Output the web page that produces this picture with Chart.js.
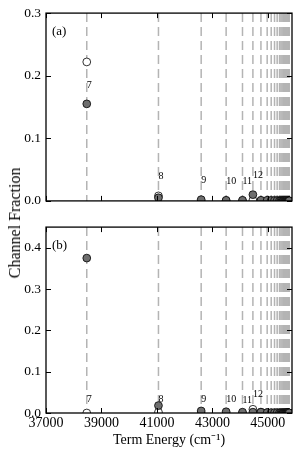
<!DOCTYPE html>
<html>
<head>
<meta charset="utf-8">
<script src="https://cdn.jsdelivr.net/npm/chart.js@4.4.1/dist/chart.umd.min.js"></script>
<style>
  body { margin: 0; background: #fff; }
  #wrap { position: relative; width: 304px; height: 463px; background: #fff; }
  .panel { position: absolute; left: 0; }
  #ylabel {
    position: absolute; left: 15px; top: 223px;
    transform: translate(-50%, -50%) rotate(-90deg);
    font: 16px "Liberation Serif", serif; white-space: nowrap; color: #000;
  }
</style>
</head>
<body>
<div id="wrap">
  <canvas id="topChart" class="panel" style="top:0" width="304" height="214"></canvas>
  <canvas id="bottomChart" class="panel" style="top:214px" width="304" height="249"></canvas>
  <div id="ylabel">Channel Fraction</div>
</div>
<script>
// Rydberg level positions (term energy, cm^-1), n = 7 upward
var lineEnergies = [38470, 41055, 42595, 43495, 44085, 44460, 44750, 44975, 45120, 45240,
  45335, 45420, 45470, 45510, 45545, 45575, 45600, 45625, 45645, 45665,
  45680, 45695, 45708, 45720, 45730, 45740, 45748, 45756, 45763, 45770];

// panel (a)
var filledA = [0.155, 0.005, 0.002, 0.001, 0.001, 0.010, 0.001, 0.001, 0.0008, 0.0007,
  0.0006, 0.0005, 0.0005, 0.0004, 0.0004, 0.0004, 0.0003, 0.0003, 0.0003, 0.0003,
  0.0002, 0.0002, 0.0002, 0.0002, 0.0002, 0.0002, 0.0001, 0.0001, 0.0001, 0.0001];
var openA = [0.222, 0.008, 0, 0, 0, 0.001, 0, 0, 0, 0,
  0, 0, 0, 0, 0, 0, 0, 0, 0, 0,
  0, 0, 0, 0, 0, 0, 0, 0, 0, 0];

// panel (b)
var filledB = [0.375, 0.018, 0.005, 0.003, 0.002, 0.002, 0.002, 0.001, 0.001, 0.001,
  0.001, 0.0008, 0.0007, 0.0006, 0.0005, 0.0005, 0.0004, 0.0004, 0.0003, 0.0003,
  0.0003, 0.0002, 0.0002, 0.0002, 0.0002, 0.0002, 0.0001, 0.0001, 0.0001, 0.0001];
var openB = [0, 0.002, 0, 0, 0, 0.009, 0.002, 0.001, 0, 0,
  0, 0, 0, 0, 0, 0, 0, 0, 0, 0,
  0, 0, 0, 0, 0, 0, 0, 0, 0, 0];

// level number labels
var levelNames = ["7", "8", "9", "10", "11", "12"];
var labelYA = [0.185, 0.039, 0.033, 0.031, 0.031, 0.041];
var labelYB = [0.033, 0.033, 0.033, 0.033, 0.030, 0.044];

var xTicks = [37000, 39000, 41000, 43000, 45000];
var yTicksA = [0.0, 0.1, 0.2, 0.3];
var yTicksB = [0.0, 0.1, 0.2, 0.3, 0.4];

Chart.defaults.font.family = "'Liberation Serif', serif";
Chart.defaults.color = "#000";

function pts(vals) {
  return vals.map(function (v, i) { return { x: lineEnergies[i], y: v }; });
}

var decor = {
  id: "decor",
  beforeDatasetsDraw: function (chart) {
    var ctx = chart.ctx, a = chart.chartArea, x = chart.scales.x;
    ctx.save();
    ctx.beginPath();
    ctx.rect(a.left, a.top, a.right - a.left, a.bottom - a.top);
    ctx.clip();
    ctx.strokeStyle = "#b4b4b4";
    ctx.lineWidth = 1.5;
    ctx.setLineDash([9, 5]);
    lineEnergies.forEach(function (e) {
      var px = x.getPixelForValue(e);
      ctx.beginPath();
      ctx.moveTo(px, a.top);
      ctx.lineTo(px, a.bottom);
      ctx.stroke();
    });
    ctx.restore();
  },
  afterDatasetsDraw: function (chart, args, opts) {
    var ctx = chart.ctx, a = chart.chartArea, x = chart.scales.x, y = chart.scales.y;
    ctx.save();
    // level numbers
    ctx.fillStyle = "#000";
    ctx.font = "10px 'Liberation Serif', serif";
    ctx.textAlign = "left";
    ctx.textBaseline = "middle";
    levelNames.forEach(function (t, i) {
      ctx.fillText(t, x.getPixelForValue(lineEnergies[i]), y.getPixelForValue(opts.labelY[i]));
    });
    // panel tag
    ctx.font = "13px 'Liberation Serif', serif";
    ctx.fillText(opts.tag, a.left + 6, a.top + 18);
    // inward ticks
    ctx.strokeStyle = "#000";
    ctx.lineWidth = 1;
    ctx.beginPath();
    opts.yTicks.forEach(function (v) {
      var py = Math.round(y.getPixelForValue(v)) + 0.5;
      ctx.moveTo(a.left, py); ctx.lineTo(a.left + 5, py);
      ctx.moveTo(a.right, py); ctx.lineTo(a.right - 5, py);
    });
    xTicks.forEach(function (v) {
      var px = Math.round(x.getPixelForValue(v)) + 0.5;
      ctx.moveTo(px, a.top); ctx.lineTo(px, a.top + 5);
      ctx.moveTo(px, a.bottom); ctx.lineTo(px, a.bottom - 5);
    });
    ctx.stroke();
    // frame
    ctx.lineWidth = 1.3;
    ctx.strokeRect(a.left, a.top, a.right - a.left, a.bottom - a.top);
    ctx.restore();
  }
};

function makeChart(id, filled, open, yMax, yTicks, tag, labelY, bottom) {
  return new Chart(document.getElementById(id), {
    type: "scatter",
    data: {
      datasets: [
        {
          label: "filled",
          data: pts(filled),
          backgroundColor: "#6e6e6e",
          borderColor: "#000",
          borderWidth: 0.8,
          pointRadius: 3.9,
          clip: 0,
          order: 0,
        },
        {
          label: "open",
          data: pts(open),
          backgroundColor: "#fff",
          borderColor: "#000",
          borderWidth: 0.8,
          pointRadius: 3.9,
          clip: 0,
          order: 1,
        },
      ],
    },
    options: {
      responsive: false,
      animation: false,
      events: [],
      layout: { padding: { top: bottom ? 7 : 13, right: 12, left: 0, bottom: 0 } },
      plugins: {
        legend: { display: false },
        tooltip: { enabled: false },
        decor: { tag: tag, labelY: labelY, yTicks: yTicks },
      },
      scales: {
        x: {
          type: "linear",
          min: 37000,
          max: 45870,
          grid: { display: false, drawTicks: false },
          border: { display: false },
          afterBuildTicks: function (s) { s.ticks = xTicks.map(function (v) { return { value: v }; }); },
          afterFit: function (s) { s.height = bottom ? 50 : 7; },
          ticks: {
            display: bottom,
            autoSkip: false,
            maxRotation: 0,
            padding: 2,
            font: { size: 14 },
            callback: function (v) { return String(v); },
          },
          title: {
            display: bottom,
            text: "Term Energy (cm\u207B\u00B9)",
            font: { size: 14 },
            padding: { top: 0, bottom: 14 },
          },
        },
        y: {
          min: 0,
          max: yMax,
          grid: { display: false, drawTicks: false },
          border: { display: false },
          afterBuildTicks: function (s) { s.ticks = yTicks.map(function (v) { return { value: v }; }); },
          afterFit: function (s) { s.width = 46; },
          ticks: {
            padding: 5,
            font: { size: 13.5 },
            callback: function (v) { return v.toFixed(1); },
          },
        },
      },
    },
    plugins: [decor],
  });
}

makeChart("topChart", filledA, openA, 0.3, yTicksA, "(a)", labelYA, false);
makeChart("bottomChart", filledB, openB, 0.45, yTicksB, "(b)", labelYB, true);
</script>
</body>
</html>
